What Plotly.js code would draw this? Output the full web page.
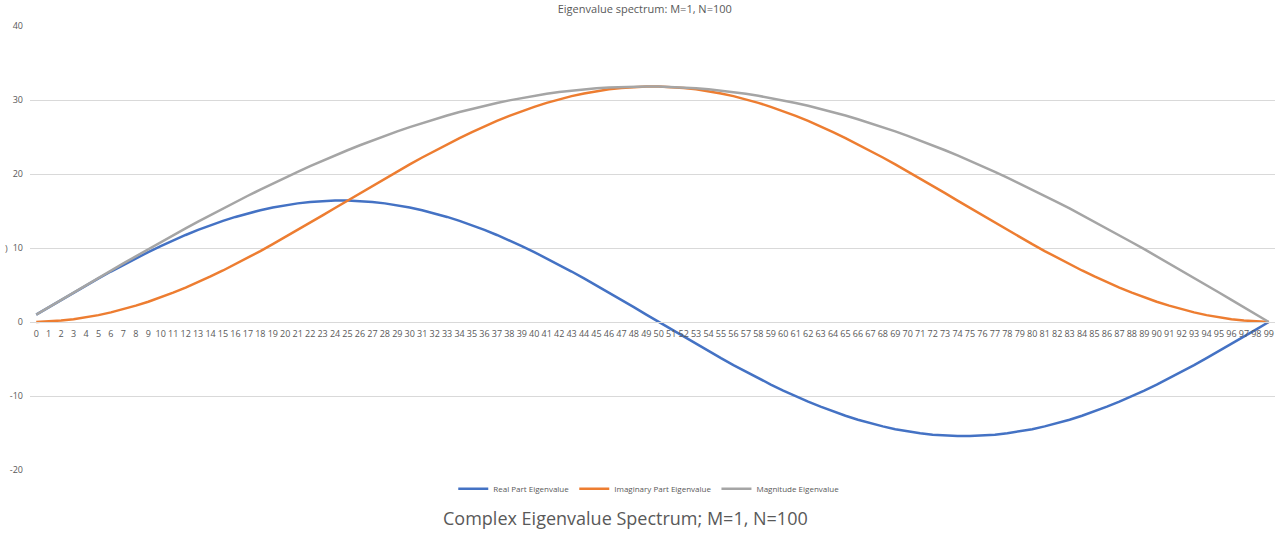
<!DOCTYPE html>
<html>
<head>
<meta charset="utf-8">
<script src="https://cdn.plot.ly/plotly-3.0.1.min.js"></script>
<style>html,body{margin:0;padding:0;background:#fff;}#chart{width:1287px;height:537px;}</style>
</head>
<body>
<div id="chart"></div>
<script>
const indices = Array.from({length: 100}, (_, i) => i);

const realPart = [1.00, 2.00, 2.99, 3.97, 4.94, 5.89, 6.82, 7.73, 8.60, 9.45,
  10.26, 11.03, 11.76, 12.44, 13.08, 13.67, 14.20, 14.68, 15.11, 15.48,
  15.79, 16.03, 16.22, 16.35, 16.41, 16.41, 16.35, 16.22, 16.03, 15.79,
  15.48, 15.11, 14.68, 14.20, 13.67, 13.08, 12.44, 11.76, 11.03, 10.26,
  9.45, 8.60, 7.73, 6.82, 5.89, 4.94, 3.97, 2.99, 2.00, 1.00,
  0.00, -1.00, -1.99, -2.97, -3.94, -4.89, -5.82, -6.73, -7.60, -8.45,
  -9.26, -10.03, -10.76, -11.44, -12.08, -12.67, -13.20, -13.68, -14.11, -14.48,
  -14.79, -15.03, -15.22, -15.35, -15.41, -15.41, -15.35, -15.22, -15.03, -14.79,
  -14.48, -14.11, -13.68, -13.20, -12.67, -12.08, -11.44, -10.76, -10.03, -9.26,
  -8.45, -7.60, -6.73, -5.82, -4.89, -3.94, -2.97, -1.99, -1.00, 0.00];

const imagPart = [0.00, 0.06, 0.19, 0.37, 0.62, 0.93, 1.30, 1.73, 2.21, 2.74,
  3.33, 3.97, 4.65, 5.38, 6.15, 6.96, 7.81, 8.68, 9.59, 10.52,
  11.47, 12.44, 13.42, 14.41, 15.41, 16.41, 17.41, 18.40, 19.38, 20.35,
  21.30, 22.23, 23.14, 24.01, 24.86, 25.67, 26.44, 27.17, 27.85, 28.49,
  29.08, 29.61, 30.09, 30.52, 30.89, 31.20, 31.45, 31.63, 31.76, 31.82,
  31.82, 31.76, 31.63, 31.45, 31.20, 30.89, 30.52, 30.09, 29.61, 29.08,
  28.49, 27.85, 27.17, 26.44, 25.67, 24.86, 24.01, 23.14, 22.23, 21.30,
  20.35, 19.38, 18.40, 17.41, 16.41, 15.41, 14.41, 13.42, 12.44, 11.47,
  10.52, 9.59, 8.68, 7.81, 6.96, 6.15, 5.38, 4.65, 3.97, 3.33,
  2.74, 2.21, 1.73, 1.30, 0.93, 0.62, 0.37, 0.19, 0.06, 0.00];

const magnitude = [1.00, 2.00, 3.00, 3.99, 4.98, 5.97, 6.95, 7.92, 8.88, 9.84,
  10.78, 11.72, 12.64, 13.56, 14.45, 15.34, 16.21, 17.06, 17.89, 18.71,
  19.51, 20.29, 21.05, 21.79, 22.51, 23.21, 23.88, 24.53, 25.16, 25.76,
  26.33, 26.88, 27.40, 27.90, 28.37, 28.81, 29.22, 29.60, 29.95, 30.28,
  30.57, 30.84, 31.07, 31.27, 31.44, 31.59, 31.70, 31.77, 31.82, 31.84,
  31.82, 31.77, 31.70, 31.59, 31.44, 31.27, 31.07, 30.84, 30.57, 30.28,
  29.95, 29.60, 29.22, 28.81, 28.37, 27.90, 27.40, 26.88, 26.33, 25.76,
  25.16, 24.53, 23.88, 23.21, 22.51, 21.79, 21.05, 20.29, 19.51, 18.71,
  17.89, 17.06, 16.21, 15.34, 14.45, 13.56, 12.64, 11.72, 10.78, 9.84,
  8.88, 7.92, 6.95, 5.97, 4.98, 3.99, 3.00, 2.00, 1.00, 0.00];

const seriesNames = ["Real Part Eigenvalue", "Imaginary Part Eigenvalue", "Magnitude Eigenvalue"];
const yTickVals = [-20, -10, 0, 10, 20, 30, 40];
const yTickText = ["-20", "-10", "0", "10", "20", "30", "40"];
const chartTitle = "Eigenvalue spectrum: M=1, N=100";
const bottomTitle = "Complex Eigenvalue Spectrum; M=1, N=100";

const colors = ["#4472C4", "#ED7D31", "#A5A5A5"];
const series = [realPart, imagPart, magnitude];

const traces = series.map((ys, i) => ({
  x: indices, y: ys, type: "scatter", mode: "lines", name: seriesNames[i],
  line: {color: colors[i], width: 2.5}
}));

const layout = {
  width: 1287, height: 537,
  margin: {l: 30, r: 12, t: 26, b: 67, pad: 0},
  paper_bgcolor: "#ffffff", plot_bgcolor: "#ffffff",
  font: {family: "Open Sans, Liberation Sans, sans-serif", color: "#595959"},
  title: {text: chartTitle, x: 0.501, xanchor: "center", y: 0.983, yanchor: "middle", yref: "container",
          font: {size: 11, color: "#595959", family: "Open Sans, sans-serif"}},
  xaxis: {range: [-0.5, 99.5], tickmode: "linear", tick0: 0, dtick: 1, showgrid: false, zeroline: false,
          anchor: "free", position: 1/3, showline: true, linecolor: "#d9d9d9", linewidth: 1,
          ticks: "", tickangle: 0, ticklabelstandoff: 3,
          tickfont: {size: 9, color: "#595959"}, automargin: false, fixedrange: true},
  yaxis: {range: [-20, 40], tickvals: yTickVals, ticktext: yTickText, showgrid: true, gridcolor: "#d9d9d9",
          gridwidth: 1, zeroline: false, showline: false, ticks: "", ticklabelstandoff: 6,
          tickfont: {size: 9, color: "#595959"}, automargin: false, fixedrange: true},
  showlegend: true,
  legend: {orientation: "h", x: 0.497, xanchor: "center", y: -0.042, yanchor: "middle",
           font: {size: 8, color: "#595959"}, itemwidth: 30, tracegroupgap: 0, bgcolor: "rgba(0,0,0,0)"},
  annotations: [
    {text: bottomTitle, xref: "paper", yref: "paper", x: 0.478, y: -0.109, xanchor: "center", yanchor: "middle",
     showarrow: false, font: {size: 18, color: "#595959", family: "Open Sans, sans-serif"}},
    {text: ")", xref: "paper", yref: "y", x: -0.019, y: 10, xanchor: "center", yanchor: "middle",
     showarrow: false, font: {size: 9, color: "#595959"}}
  ]
};

Plotly.newPlot("chart", traces, layout, {displayModeBar: false, staticPlot: true});
</script>
</body>
</html>
